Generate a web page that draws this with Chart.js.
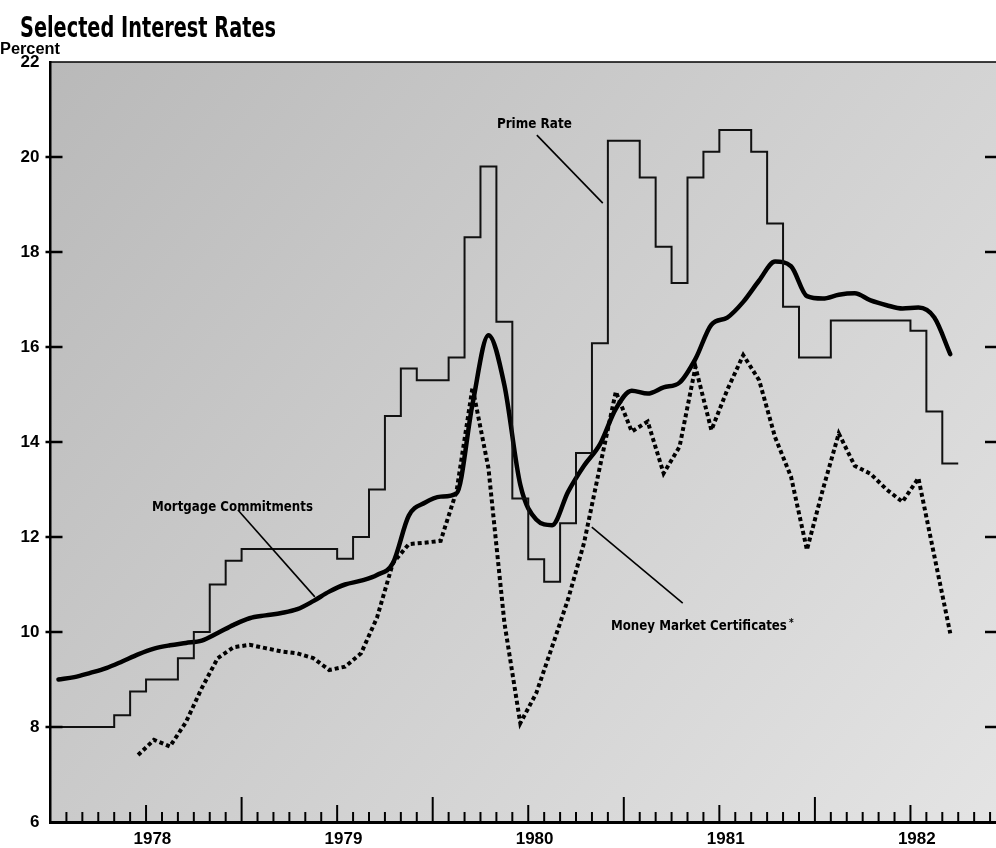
<!DOCTYPE html>
<html>
<head>
<meta charset="utf-8">
<title>Selected Interest Rates</title>
<script src="https://cdn.jsdelivr.net/npm/chart.js@4.4.1/dist/chart.umd.min.js"></script>
<style>
	html, body { margin: 0; padding: 0; background: #fff; overflow: hidden; }
	#wrap { position: relative; width: 1012px; height: 848px; }
</style>
</head>
<body>
<div id="wrap"><canvas id="mycanvas"></canvas></div>
<script>
// months are counted from January 1978 = 0
var yearLabels = ['1978', '1979', '1980', '1981', '1982'];

// prime rate, one value per month, Jan 1978 .. Sep 1982
var primeStart = 0;
var primeRate = [
	8.0, 8.0, 8.0, 8.0, 8.25, 8.75, 9.0, 9.0, 9.45, 10.0, 11.0, 11.5,
	11.75, 11.75, 11.75, 11.75, 11.75, 11.75, 11.54, 12.0, 13.0, 14.55, 15.55, 15.3,
	15.3, 15.78, 18.31, 19.8, 16.53, 12.81, 11.53, 11.06, 12.29, 13.77, 16.08, 20.34,
	20.34, 19.57, 18.11, 17.35, 19.57, 20.11, 20.57, 20.57, 20.11, 18.6, 16.85, 15.78,
	15.78, 16.56, 16.56, 16.56, 16.56, 16.56, 16.34, 14.64, 13.55
];

// mortgage commitments, monthly, Jan 1978 .. Sep 1982
var mortgageStart = 0;
var mortgage = [
	9.0, 9.05, 9.14, 9.24, 9.38, 9.53, 9.65, 9.72, 9.77, 9.82, 9.98, 10.15,
	10.29, 10.35, 10.4, 10.48, 10.65, 10.85, 11.0, 11.08, 11.2, 11.45, 12.45, 12.72,
	12.85, 12.92, 14.8, 16.25, 15.2, 13.1, 12.37, 12.25, 12.95, 13.5, 13.95, 14.7,
	15.08, 15.02, 15.15, 15.25, 15.75, 16.47, 16.62, 16.95, 17.4, 17.8, 17.7, 17.07,
	17.02, 17.1, 17.13, 16.98, 16.88, 16.81, 16.83, 16.62, 15.85
];

// money market certificates, monthly, Jun 1978 .. Sep 1982
var mmcStart = 5;
var moneyMarket = [
	7.41, 7.73, 7.59, 8.1, 8.82, 9.45, 9.68,
	9.73, 9.66, 9.59, 9.55, 9.45, 9.2, 9.27, 9.55, 10.3, 11.45, 11.85, 11.88,
	11.92, 12.97, 15.15, 13.45, 10.2, 8.08, 8.71, 9.69, 10.69, 11.87, 13.48, 15.06,
	14.22, 14.43, 13.34, 13.9, 15.58, 14.25, 15.1, 15.83, 15.3, 14.1, 13.27, 11.73,
	13.0, 14.18, 13.5, 13.33, 13.0, 12.74, 13.24, 11.6, 9.97
];

var primePts = primeRate.map(function(v, i) { return {x: primeStart + i, y: v}; });
primePts.push({x: primeStart + primeRate.length, y: primeRate[primeRate.length - 1]});
var mortgagePts = mortgage.map(function(v, i) { return {x: mortgageStart + i + 0.5, y: v}; });
var mmcPts = moneyMarket.map(function(v, i) { return {x: mmcStart + i + 0.5, y: v}; });

// series labels, placed in chart units (month, percent)
var notes = [
	{text: 'Prime Rate', x: 28.03, y: 20.61, w: 75, from: [30.54, 20.46], to: [34.68, 19.03]},
	{text: 'Mortgage Commitments', x: 6.37, y: 12.55, w: 161, from: [11.77, 12.57], to: [16.6, 10.74]},
	{text: 'Money Market Certificates', x: 35.19, y: 10.04, w: 176, star: true, from: [33.99, 12.21], to: [39.7, 10.61]}
];

var narrow = "'Liberation Sans Narrow', 'DejaVu Sans Condensed', sans-serif";

function fitText(ctx, text, x, y, font, width) {
	ctx.font = font;
	var w = ctx.measureText(text).width;
	ctx.save();
	ctx.translate(x, y);
	ctx.scale(width / w, 1);
	ctx.textAlign = 'left';
	ctx.textBaseline = 'alphabetic';
	ctx.fillText(text, 0, 0);
	ctx.restore();
}

var decor = {
	id: 'decor',
	beforeDraw: function(chart) {
		var ctx = chart.ctx, a = chart.chartArea;
		ctx.save();
		var g = ctx.createLinearGradient(a.left, a.top, a.right, a.bottom);
		g.addColorStop(0, '#b9b9b9');
		g.addColorStop(0.45, '#cdcdcd');
		g.addColorStop(1, '#e4e4e4');
		ctx.fillStyle = g;
		ctx.fillRect(a.left, a.top, a.right - a.left, a.bottom - a.top);
		ctx.restore();
	},
	afterDraw: function(chart) {
		var ctx = chart.ctx, a = chart.chartArea;
		var xs = chart.scales.x, ys = chart.scales.y;
		ctx.save();
		ctx.strokeStyle = '#000';
		ctx.fillStyle = '#000';

		// top frame line
		ctx.lineWidth = 1.5;
		ctx.beginPath();
		ctx.moveTo(a.left, a.top);
		ctx.lineTo(a.right, a.top);
		ctx.stroke();

		// inward ticks on left and right
		ctx.lineWidth = 2.5;
		for (var v = 8; v <= 20; v += 2) {
			var py = ys.getPixelForValue(v);
			ctx.beginPath();
			ctx.moveTo(a.left - 5, py);
			ctx.lineTo(a.left + 12, py);
			ctx.moveTo(a.right - 21, py);
			ctx.lineTo(a.right, py);
			ctx.stroke();
		}

		// month ticks along the bottom
		ctx.lineWidth = 2;
		for (var m = 1; m < 60; m++) {
			var len = m % 12 === 0 ? 25 : (m % 6 === 0 ? 17 : 10);
			var px = xs.getPixelForValue(m);
			ctx.beginPath();
			ctx.moveTo(px, a.bottom);
			ctx.lineTo(px, a.bottom - len);
			ctx.stroke();
		}

		// series labels with leader lines
		ctx.lineWidth = 1.6;
		notes.forEach(function(n) {
			ctx.beginPath();
			ctx.moveTo(xs.getPixelForValue(n.from[0]), ys.getPixelForValue(n.from[1]));
			ctx.lineTo(xs.getPixelForValue(n.to[0]), ys.getPixelForValue(n.to[1]));
			ctx.stroke();
			var tx = xs.getPixelForValue(n.x), ty = ys.getPixelForValue(n.y);
			fitText(ctx, n.text, tx, ty, 'bold 14px ' + narrow, n.w);
			if (n.star) {
				ctx.font = 'bold 10px ' + narrow;
				ctx.fillText('*', tx + n.w + 2, ty - 4);
			}
		});

		// title and unit
		fitText(ctx, 'Selected Interest Rates', 20, 37, 'bold 28px ' + narrow, 256);
		fitText(ctx, 'Percent', 0, 54, "bold 16px 'Liberation Sans', sans-serif", 60);
		ctx.restore();
	}
};

var ctx = document.getElementById('mycanvas');

var lineChart = new Chart(ctx, {
	type: 'line',
	data: {
		datasets: [
			{
				label: 'Prime Rate',
				data: primePts,
				stepped: true,
				borderColor: '#111',
				borderWidth: 2,
				pointRadius: 0,
				fill: false
			},
			{
				label: 'Mortgage Commitments',
				data: mortgagePts,
				cubicInterpolationMode: 'monotone',
				borderColor: '#000',
				borderWidth: 4.5,
				borderCapStyle: 'round',
				pointRadius: 0,
				fill: false
			},
			{
				label: 'Money Market Certificates',
				data: mmcPts,
				tension: 0,
				borderColor: '#000',
				borderWidth: 4,
				borderDash: [4, 3],
				pointRadius: 0,
				fill: false
			}
		]
	},
	options: {
		responsive: true,
		maintainAspectRatio: false,
		animation: false,
		layout: { padding: { top: 62, right: 6, left: 0, bottom: 0 } },
		plugins: {
			legend: { display: false },
			tooltip: { enabled: false },
			title: { display: false }
		},
		scales: {
			x: {
				type: 'linear',
				min: 0,
				max: 60,
				afterFit: function(scale) { scale.height = 26; },
				afterBuildTicks: function(scale) {
					scale.ticks = yearLabels.map(function(l, i) { return {value: i * 12 + 6.4}; });
				},
				ticks: {
					autoSkip: false,
					maxRotation: 0,
					padding: 7,
					color: '#000',
					font: { family: 'Liberation Sans', weight: 'bold', size: 17 },
					callback: function(value, index) { return yearLabels[index]; }
				},
				grid: { display: false, drawTicks: false },
				border: { display: true, color: '#000', width: 3 }
			},
			y: {
				min: 6,
				max: 22,
				afterFit: function(scale) { scale.width = 50.5; },
				ticks: {
					stepSize: 2,
					padding: 11,
					color: '#000',
					font: { family: 'Liberation Sans', weight: 'bold', size: 17 }
				},
				grid: { display: false, drawTicks: false },
				border: { display: true, color: '#000', width: 2.5 }
			}
		}
	},
	plugins: [decor]
});
</script>
</body>
</html>
